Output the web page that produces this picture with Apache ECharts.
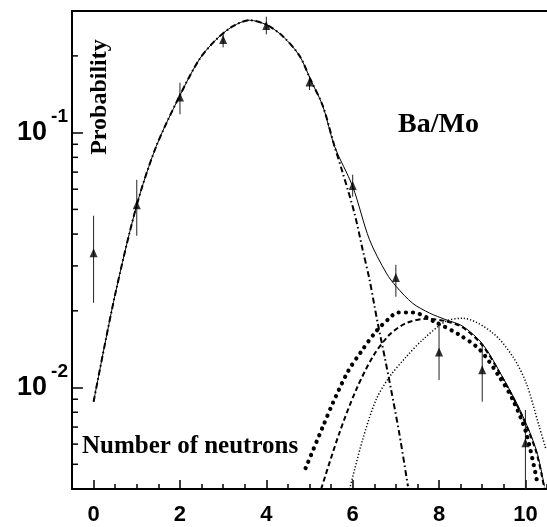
<!DOCTYPE html>
<html>
<head>
<meta charset="utf-8">
<script src="https://cdn.jsdelivr.net/npm/echarts@6/dist/echarts.min.js"></script>
<style>
  html, body { margin: 0; padding: 0; background: #fff; }
  #chart { width: 547px; height: 527px; }
</style>
</head>
<body>
<div id="chart"></div>
<script>
// measured neutron multiplicities, with error bar ends
const nNeutrons = [0, 1, 2, 3, 4, 5, 6, 7, 8, 9, 10];
const probMeasured = [0.0338, 0.0521, 0.138, 0.232, 0.263, 0.158, 0.062, 0.027, 0.0138, 0.01175, 0.00607];
const probHigh = [0.0472, 0.0653, 0.157, 0.247, 0.285, 0.167, 0.0684, 0.0303, 0.0176, 0.01473, 0.00817];
const probLow = [0.0215, 0.0394, 0.118, 0.216, 0.243, 0.147, 0.0561, 0.0227, 0.0107, 0.0088, 0.004];

// total fit (solid)
const totalX = [0, 0.49, 1, 1.45, 1.99, 2.45, 2.84, 3.22, 3.61, 4.0, 4.38, 4.77, 5.02, 5.31, 5.58, 6.0, 6.39, 6.78, 7.01, 7.39, 7.78, 8.16, 8.55, 9.01, 9.47, 9.9, 10.25, 10.44];
const totalY = [0.0088, 0.0228, 0.052, 0.0883, 0.139, 0.194, 0.232, 0.261, 0.276, 0.265, 0.239, 0.2, 0.162, 0.127, 0.0883, 0.0615, 0.038, 0.0281, 0.0249, 0.0214, 0.0196, 0.01845, 0.0174, 0.0148, 0.011, 0.008, 0.0057, 0.0041];

// first component (dash-dot)
const firstX = [0, 0.49, 1, 1.45, 1.99, 2.45, 2.84, 3.22, 3.61, 4.0, 4.38, 4.77, 5.02, 5.31, 5.58, 5.77, 6.04, 6.23, 6.39, 6.5, 6.58, 6.74, 6.89, 7.08, 7.28];
const firstY = [0.0088, 0.0228, 0.052, 0.0883, 0.139, 0.194, 0.232, 0.261, 0.276, 0.265, 0.239, 0.2, 0.162, 0.127, 0.0883, 0.0695, 0.0484, 0.0348, 0.0265, 0.0211, 0.0179, 0.0132, 0.0098, 0.0066, 0.0041];

// second component (dashed)
const secondX = [5.27, 5.69, 6.08, 6.47, 6.85, 7.24, 7.7, 8.16, 8.55, 9.01, 9.47, 9.9, 10.25, 10.44];
const secondY = [0.004, 0.00662, 0.0098, 0.01324, 0.0161, 0.0179, 0.0186, 0.0182, 0.0172, 0.0146, 0.0109, 0.0079, 0.0056, 0.004];

// shifted variants of second component (big dots, fine dots)
const lowShiftX = [4.91, 5.31, 5.54, 5.89, 6.2, 6.54, 6.85, 7.04, 7.39, 7.93, 8.47, 8.94, 9.4, 9.71, 10.02, 10.28];
const lowShiftY = [0.00483, 0.00703, 0.00869, 0.01156, 0.01385, 0.0166, 0.0187, 0.0197, 0.0197, 0.018, 0.0161, 0.0141, 0.011, 0.00895, 0.00662, 0.0042];
const highShiftX = [5.93, 6.23, 6.54, 6.85, 7.24, 7.62, 8.16, 8.55, 9.24, 9.71, 10.02, 10.32, 10.48];
const highShiftY = [0.004, 0.00624, 0.00895, 0.011, 0.0132, 0.0154, 0.0182, 0.0187, 0.0164, 0.0132, 0.0104, 0.00703, 0.0057];

const xLabelValues = [0, 2, 4, 6, 8, 10];
const yMinorTicks = [0.005, 0.006, 0.007, 0.008, 0.009, 0.02, 0.03, 0.04, 0.05, 0.06, 0.07, 0.08, 0.09, 0.2];

function pairs(xs, ys) {
  return xs.map((x, i) => [x, ys[i]]);
}

const sansBold = { fontFamily: "Liberation Sans", fontWeight: "bold", color: "#000" };
const serifBold = { fontFamily: "Liberation Serif", fontWeight: "bold", fill: "#000" };

function curve(data, lineStyle) {
  return {
    type: "line",
    data,
    smooth: 0.3,
    symbol: "none",
    silent: true,
    lineStyle: Object.assign({ color: "#000" }, lineStyle)
  };
}

const chart = echarts.init(document.getElementById("chart"));
chart.setOption({
  animation: false,
  backgroundColor: "#fff",
  grid: { left: 72, right: 0, top: 11, bottom: 38 },
  xAxis: [
    {
      type: "value",
      min: -0.5,
      max: 10.5,
      interval: 0.5,
      position: "bottom",
      axisLine: { onZero: false, lineStyle: { color: "#000", width: 2 } },
      axisTick: { inside: true, length: 5, lineStyle: { color: "#000", width: 1.5 } },
      axisLabel: Object.assign({ customValues: xLabelValues, fontSize: 22, margin: 15 }, sansBold),
      splitLine: { show: false }
    },
    {
      type: "value",
      min: -0.5,
      max: 10.5,
      position: "bottom",
      axisLine: { show: false, onZero: false },
      axisTick: { inside: true, length: 9, customValues: xLabelValues, lineStyle: { color: "#000", width: 1.5 } },
      axisLabel: { show: false },
      splitLine: { show: false }
    },
    {
      type: "value",
      min: -0.5,
      max: 10.5,
      position: "top",
      axisLine: { onZero: false, lineStyle: { color: "#000", width: 2 } },
      axisTick: { show: false },
      axisLabel: { show: false },
      splitLine: { show: false }
    }
  ],
  yAxis: {
    type: "log",
    logBase: 10,
    min: 0.004,
    max: 0.3,
    position: "left",
    axisLine: { show: true, onZero: false, lineStyle: { color: "#000", width: 2 } },
    axisTick: { inside: true, length: 11, lineStyle: { color: "#000", width: 1.5 } },
    splitLine: { show: false },
    axisLabel: {
      margin: 4,
      formatter: v => {
        const e = Math.log10(v);
        const r = Math.round(e);
        if (Math.abs(e - r) > 1e-6) return "";
        return "{b|10}{s|" + r + "}";
      },
      rich: {
        b: Object.assign({ fontSize: 27 }, sansBold),
        s: Object.assign({ fontSize: 19, padding: [0, 0, 32, 4] }, sansBold)
      }
    }
  },
  series: [
    {
      type: "custom",
      silent: true,
      data: yMinorTicks.map(v => [0, v]),
      encode: { x: 0, y: 1 },
      renderItem: (params, api) => {
        const y = api.coord([0, api.value(1)])[1];
        const x0 = params.coordSys.x;
        return {
          type: "line",
          shape: { x1: x0, y1: y, x2: x0 + 6, y2: y },
          style: { stroke: "#000", lineWidth: 1.5 }
        };
      }
    },
    curve(pairs(totalX, totalY), { width: 1 }),
    curve(pairs(firstX, firstY), { width: 2, type: [6, 3, 1.5, 3] }),
    curve(pairs(secondX, secondY), { width: 2, type: [5, 3] }),
    curve(pairs(lowShiftX, lowShiftY), { width: 4.2, type: [0.1, 7], cap: "round" }),
    curve(pairs(highShiftX, highShiftY), { width: 1.5, type: [1.2, 2] }),
    {
      type: "custom",
      silent: true,
      data: nNeutrons.map((n, i) => [n, probHigh[i], probLow[i]]),
      encode: { x: 0, y: [1, 2] },
      renderItem: (params, api) => {
        const x = api.value(0);
        const top = api.coord([x, api.value(1)]);
        const bot = api.coord([x, api.value(2)]);
        return {
          type: "line",
          shape: { x1: top[0], y1: top[1], x2: bot[0], y2: bot[1] },
          style: { stroke: "#222", lineWidth: 1 }
        };
      }
    },
    {
      type: "scatter",
      data: pairs(nNeutrons, probMeasured),
      symbol: "triangle",
      symbolSize: [8, 9],
      silent: true,
      itemStyle: { color: "#000" }
    }
  ],
  graphic: [
    {
      type: "text",
      x: 100,
      y: 97,
      rotation: Math.PI / 2,
      style: Object.assign({ text: "Probability", fontSize: 24, align: "center", verticalAlign: "middle" }, serifBold)
    },
    {
      type: "text",
      x: 398,
      y: 125,
      style: Object.assign({ text: "Ba/Mo", fontSize: 28, align: "left", verticalAlign: "middle" }, serifBold)
    },
    {
      type: "text",
      x: 82,
      y: 447,
      style: Object.assign({ text: "Number of neutrons", fontSize: 25, align: "left", verticalAlign: "middle" }, serifBold)
    }
  ]
});
</script>
</body>
</html>
